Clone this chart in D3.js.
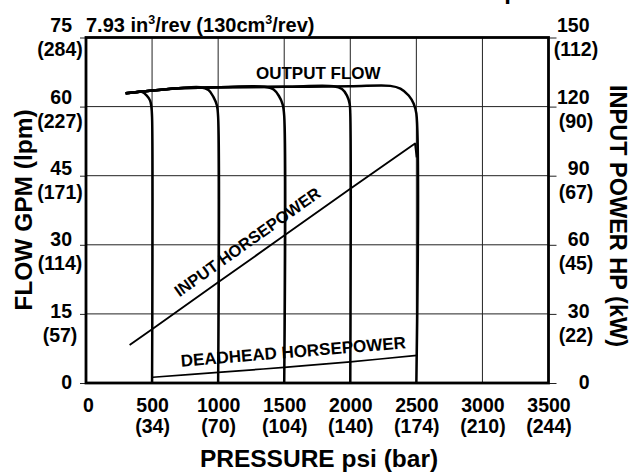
<!DOCTYPE html>
<html>
<head>
<meta charset="utf-8">
<script src="https://cdn.jsdelivr.net/npm/d3@7"></script>
<style>
  html, body { margin: 0; padding: 0; background: #fff; }
  svg { display: block; font-family: "Liberation Sans", Arial, Helvetica, sans-serif; font-weight: bold; }
</style>
</head>
<body>
<svg id="chart" width="630" height="473"></svg>
<script>
// Axis ticks and their secondary-unit labels
const psiTicks  = [0, 500, 1000, 1500, 2000, 2500, 3000, 3500];
const barLabels = ["", "(34)", "(70)", "(104)", "(140)", "(174)", "(210)", "(244)"];
const gpmTicks  = [0, 15, 30, 45, 60, 75];
const lpmLabels = ["", "(57)", "(114)", "(171)", "(227)", "(284)"];
const hpTicks   = [0, 30, 60, 90, 120, 150];
const kwLabels  = ["", "(22)", "(45)", "(67)", "(90)", "(112)"];

// Output flow (gpm) against pressure (psi), one curve per relief setting
const flow500  = [[300, 62.9], [380, 63.1], [421, 63.2], [460, 62.4], [485, 61.3], [495, 59.9], [500, 57.7], [500, 0]];
const flow1000 = [[300, 62.9], [430, 63.3], [700, 64.0], [864, 64.2], [927, 63.6], [964, 62.1], [990, 60.3], [1000, 57.7], [1000, 0]];
const flow1500 = [[300, 62.9], [430, 63.3], [700, 64.0], [1000, 64.2], [1350, 64.3], [1420, 63.7], [1460, 62.3], [1488, 60.5], [1500, 58.0], [1500, 0]];
const flow2000 = [[300, 62.9], [430, 63.3], [700, 64.0], [1000, 64.2], [1500, 64.3], [1874, 64.4], [1937, 63.8], [1975, 62.4], [1995, 60.6], [2000, 58.5], [2000, 0]];
const flow2500 = [[300, 62.9], [430, 63.3], [700, 64.0], [1000, 64.2], [1500, 64.3], [2000, 64.4], [2303, 64.5], [2379, 63.9], [2442, 62.4], [2480, 60.6], [2500, 58.5], [2500, 0]];
const flowCurves = [flow500, flow1000, flow1500, flow2000, flow2500];

// Input and deadhead horsepower (hp) against pressure (psi)
const inputHp    = [[330, 16.5], [500, 23.3], [1000, 43.7], [1500, 64.0], [2000, 84.3], [2490, 104.0], [2502, 98.0]];
const deadheadHp = [[505, 2.5], [1000, 4.6], [1500, 6.8], [2000, 9.2], [2505, 12.0]];

const svg = d3.select("#chart");
const FONT = '"Liberation Sans", Arial, Helvetica, sans-serif';

const x     = d3.scaleLinear().domain([0, 3500]).range([86, 548.5]);
const yFlow = d3.scaleLinear().domain([0, 75]).range([383, 37.5]);
const yHp   = d3.scaleLinear().domain([0, 150]).range([383, 37.5]);
// baseline of the upper label in each two-line tick label pair
const labelRow = d3.scaleLinear().domain([0, 75]).range([388.5, 31.7]);

// clipped page header above the chart
svg.append("text")
  .attr("x", 519).attr("y", -1)
  .attr("text-anchor", "end")
  .attr("font-size", 24)
  .text("Pump");

// grid
const grid = svg.append("g").attr("stroke", "#222").attr("stroke-width", 1);
grid.selectAll("line.h")
  .data(gpmTicks.filter(d => d > 0 && d < 75))
  .join("line")
  .attr("x1", x(0)).attr("x2", x(3500))
  .attr("y1", d => yFlow(d)).attr("y2", d => yFlow(d));
grid.selectAll("line.v")
  .data(psiTicks.filter(d => d > 0 && d < 3500))
  .join("line")
  .attr("x1", d => x(d)).attr("x2", d => x(d))
  .attr("y1", yFlow(75)).attr("y2", yFlow(0));

// left axis: gpm with lpm below
const gL = svg.append("g")
  .attr("transform", `translate(${x(0)},0)`)
  .call(d3.axisLeft(yFlow).tickValues(gpmTicks).tickSize(6).tickFormat(d => d));
gL.attr("font-family", FONT).attr("font-size", 19.5).attr("font-weight", "bold");
gL.select(".domain").remove();
gL.selectAll(".tick line").attr("stroke", "#222").attr("stroke-width", 1);
gL.selectAll(".tick text")
  .attr("x", -14).attr("dy", null)
  .attr("y", d => labelRow(d) - yFlow(d))
  .attr("text-anchor", "end").attr("fill", "#000");
gL.selectAll(".tick").append("text")
  .attr("x", -26).attr("y", d => labelRow(d) - yFlow(d) + 24)
  .attr("text-anchor", "middle").attr("fill", "#000")
  .text(d => lpmLabels[gpmTicks.indexOf(d)]);

// right axis: hp with kW below
const gR = svg.append("g")
  .attr("transform", `translate(${x(3500)},0)`)
  .call(d3.axisRight(yHp).tickValues(hpTicks).tickSize(8).tickFormat(d => d));
gR.attr("font-family", FONT).attr("font-size", 19.5).attr("font-weight", "bold");
gR.select(".domain").remove();
gR.selectAll(".tick line").attr("stroke", "#222").attr("stroke-width", 1);
gR.selectAll(".tick text")
  .attr("x", 41).attr("dy", null)
  .attr("y", d => labelRow(d / 2) - yHp(d))
  .attr("text-anchor", "end").attr("fill", "#000");
gR.selectAll(".tick").append("text")
  .attr("x", 27.5).attr("y", d => labelRow(d / 2) - yHp(d) + 24)
  .attr("text-anchor", "middle").attr("fill", "#000")
  .text(d => kwLabels[hpTicks.indexOf(d)]);

// bottom axis: psi with bar below
const gB = svg.append("g")
  .attr("transform", `translate(0,${yFlow(0)})`)
  .call(d3.axisBottom(x).tickValues(psiTicks).tickSize(0).tickFormat(d => d));
gB.attr("font-family", FONT).attr("font-size", 19.5).attr("font-weight", "bold");
gB.select(".domain").remove();
gB.selectAll(".tick text")
  .attr("x", d => d === 0 ? 2 : 0)
  .attr("dy", null).attr("y", 28.7)
  .attr("text-anchor", "middle").attr("fill", "#000");
gB.selectAll(".tick").append("text")
  .attr("y", 50)
  .attr("text-anchor", "middle").attr("fill", "#000")
  .text(d => barLabels[psiTicks.indexOf(d)]);

// plot frame
svg.append("rect")
  .attr("x", x(0)).attr("y", yFlow(75))
  .attr("width", x(3500) - x(0)).attr("height", yFlow(0) - yFlow(75))
  .attr("fill", "none").attr("stroke", "#000").attr("stroke-width", 2.8);

// output flow curves
const flowLine = d3.line()
  .x(d => x(d[0])).y(d => yFlow(d[1]))
  .curve(d3.curveCatmullRom.alpha(0.5));
svg.append("g").selectAll("path")
  .data(flowCurves)
  .join("path")
  .attr("d", flowLine)
  .attr("fill", "none").attr("stroke", "#000").attr("stroke-width", 2.5);

// horsepower lines
const hpLine = d3.line().x(d => x(d[0])).y(d => yHp(d[1]));
svg.append("path")
  .attr("d", hpLine(inputHp))
  .attr("fill", "none").attr("stroke", "#000").attr("stroke-width", 1.9)
  .attr("stroke-linejoin", "round");
svg.append("path")
  .attr("d", hpLine.curve(d3.curveCatmullRom.alpha(0.5))(deadheadHp))
  .attr("fill", "none").attr("stroke", "#000").attr("stroke-width", 1.7);

// curve labels
svg.append("text")
  .attr("x", x(1758)).attr("y", yFlow(65.9))
  .attr("text-anchor", "middle").attr("font-size", 17)
  .text("OUTPUT FLOW");
svg.append("text")
  .attr("transform", `translate(${x(1246)},${yHp(59.2)}) rotate(-35.5)`)
  .attr("text-anchor", "middle").attr("font-size", 16.5)
  .text("INPUT HORSEPOWER");
svg.append("text")
  .attr("transform", `translate(${x(1572)},${yHp(11.07)}) rotate(-4.7)`)
  .attr("text-anchor", "middle").attr("font-size", 17)
  .text("DEADHEAD HORSEPOWER");

// displacement note
const disp = svg.append("text")
  .attr("x", x(0)).attr("y", 31.7)
  .attr("font-size", 20);
disp.append("tspan").text("7.93 in");
disp.append("tspan").attr("font-size", 12.5).attr("dy", -8).text("3");
disp.append("tspan").attr("dy", 8).text("/rev (130cm");
disp.append("tspan").attr("font-size", 12.5).attr("dy", -8).text("3");
disp.append("tspan").attr("dy", 8).text("/rev)");

// axis titles
svg.append("text")
  .attr("transform", "translate(32,210) rotate(-90)")
  .attr("text-anchor", "middle").attr("font-size", 24.5)
  .text("FLOW GPM (lpm)");
svg.append("text")
  .attr("transform", "translate(610,216) rotate(90)")
  .attr("text-anchor", "middle").attr("font-size", 23.5)
  .text("INPUT POWER HP (kW)");
svg.append("text")
  .attr("x", 319).attr("y", 466.5)
  .attr("text-anchor", "middle").attr("font-size", 24.5)
  .text("PRESSURE psi (bar)");
</script>
</body>
</html>
